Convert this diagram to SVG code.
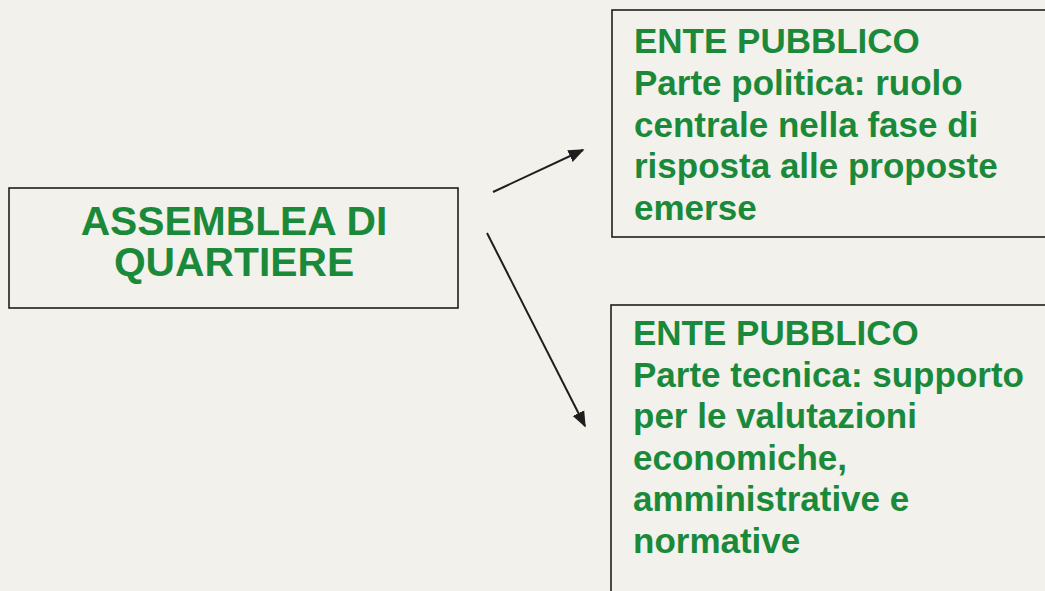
<svg xmlns="http://www.w3.org/2000/svg" width="1045" height="591" viewBox="0 0 1045 591">
<defs>
<style>
.box{fill:none;stroke:#1e1e1e;stroke-width:1.6}
.t{font-family:"Liberation Sans",Arial,sans-serif;font-weight:bold;fill:#1a8a3a}
.r{font-size:35px}
.conn{stroke:#1e1e1e;stroke-width:2;fill:none}
</style>
<marker id="ah2" viewBox="0 0 10 10" refX="9" refY="5" markerWidth="16" markerHeight="16" markerUnits="userSpaceOnUse" orient="auto">
<path d="M0,1 L10,5 L0,9 z" fill="#1e1e1e"/>
</marker>
</defs>
<rect width="1045" height="591" fill="#f3f1ec"/>
<g id="assemblea">
<rect class="box" x="9" y="188" width="449" height="120"/>
<g transform="translate(234,0) scale(1.02,1)">
<text class="t" x="0" y="235.5" font-size="40" text-anchor="middle">ASSEMBLEA DI</text>
<text class="t" x="0" y="276.5" font-size="40" text-anchor="middle">QUARTIERE</text>
</g>
</g>
<g id="ente-politica">
<rect class="box" x="612" y="10" width="440" height="227"/>
<text class="t r" x="634" y="53">ENTE PUBBLICO</text>
<text class="t r" x="634" y="95">Parte politica: ruolo</text>
<text class="t r" x="634" y="136.5">centrale nella fase di</text>
<text class="t r" x="634" y="178">risposta alle proposte</text>
<text class="t r" x="634" y="219.5">emerse</text>
</g>
<g id="ente-tecnica">
<rect class="box" x="611" y="305" width="440" height="300"/>
<text class="t r" x="633" y="345">ENTE PUBBLICO</text>
<text class="t r" x="633" y="386.6">Parte tecnica: supporto</text>
<text class="t r" x="633" y="428">per le valutazioni</text>
<text class="t r" x="633" y="469.6">economiche,</text>
<text class="t r" x="633" y="511">amministrative e</text>
<text class="t r" x="633" y="553">normative</text>
</g>
<g id="connectors">
<line class="conn" x1="493" y1="192" x2="583" y2="150" marker-end="url(#ah2)"/>
<line class="conn" x1="487" y1="233" x2="585" y2="426" marker-end="url(#ah2)"/>
</g>
</svg>
